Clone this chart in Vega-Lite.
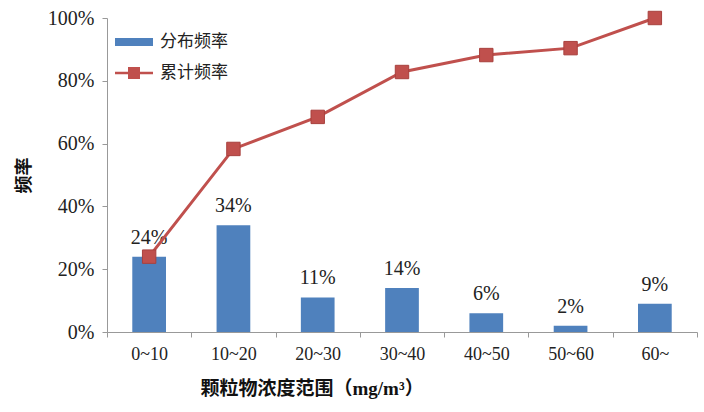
{
  "$schema": "https://vega.github.io/schema/vega-lite/v6.json",
  "width": 590,
  "height": 314,
  "autosize": {"type": "none"},
  "padding": {"left": 107, "top": 18, "right": 7, "bottom": 80},
  "background": "white",
  "config": {
    "view": {"stroke": null},
    "font": "Times New Roman, Liberation Serif, Noto Sans CJK SC, serif",
    "axis": {"grid": false}
  },
  "data": {
    "values": [
      {"range": "0~10", "dist": 0.24, "cum": 0.24, "label": "24%"},
      {"range": "10~20", "dist": 0.34, "cum": 0.583, "label": "34%"},
      {"range": "20~30", "dist": 0.11, "cum": 0.685, "label": "11%"},
      {"range": "30~40", "dist": 0.14, "cum": 0.828, "label": "14%"},
      {"range": "40~50", "dist": 0.06, "cum": 0.882, "label": "6%"},
      {"range": "50~60", "dist": 0.02, "cum": 0.904, "label": "2%"},
      {"range": "60~", "dist": 0.09, "cum": 1.0, "label": "9%"}
    ]
  },
  "encoding": {
    "x": {
      "field": "range",
      "type": "ordinal",
      "sort": null,
      "scale": {"paddingInner": 0, "paddingOuter": 0},
      "axis": {
        "title": "颗粒物浓度范围（mg/m³）",
        "titleFont": "Times New Roman, Liberation Serif, Noto Sans CJK SC, serif",
        "titleFontSize": 19,
        "titleFontWeight": "bold",
        "titleColor": "#111",
        "titleAlign": "left",
        "titleAnchor": null,
        "titleX": 93,
        "titleY": 62,
        "titleBaseline": "alphabetic",
        "labelAngle": 0,
        "labelFont": "Times New Roman, Liberation Serif, serif",
        "labelFontSize": 18,
        "labelColor": "#222",
        "labelPadding": 8,
        "tickBand": "extent",
        "tickSize": 5,
        "tickColor": "#999",
        "domainColor": "#999"
      }
    }
  },
  "layer": [
    {
      "mark": {"type": "bar", "width": {"band": 0.4}, "color": "#4F81BD"},
      "encoding": {
        "y": {
          "field": "dist",
          "type": "quantitative",
          "scale": {"domain": [0, 1], "nice": false},
          "axis": {
            "title": "频率",
            "titleFont": "Noto Sans CJK SC, sans-serif",
            "titleFontSize": 18,
            "titleFontWeight": "bold",
            "titleColor": "#111",
            "titlePadding": 14,
            "format": ".0%",
            "values": [0, 0.2, 0.4, 0.6, 0.8, 1.0],
            "labelFont": "Times New Roman, Liberation Serif, serif",
            "labelFontSize": 20,
            "labelColor": "#222",
            "labelPadding": 8,
            "tickSize": 5,
            "tickColor": "#999",
            "domainColor": "#999"
          }
        },
        "color": {
          "datum": "分布频率",
          "type": "nominal",
          "scale": {"domain": ["分布频率", "累计频率"], "range": ["#4F81BD", "#C0504D"]},
          "legend": {
            "title": null,
            "orient": "none",
            "legendX": 17,
            "legendY": 14,
            "padding": 0,
            "rowPadding": 13,
            "labelFontSize": 17,
            "labelColor": "#222",
            "labelFont": "Noto Sans CJK SC, sans-serif",
            "labelOffset": 16,
            "symbolSize": 400,
            "encode": {
              "symbols": {
                "update": {
                  "shape": {"signal": "datum.value === '分布频率' ? 'M-1.9,-0.4H1.9V0.4H-1.9Z' : 'M-1.9,-0.13H1.9V0.13H-1.9Z M-0.6,-0.6H0.6V0.6H-0.6Z'"},
                  "fill": {"signal": "datum.value === '分布频率' ? '#4F81BD' : '#C0504D'"},
                  "stroke": {"value": null},
                  "strokeWidth": {"value": 0},
                  "opacity": {"value": 1},
                  "fillOpacity": {"value": 1}
                }
              }
            }
          }
        }
      }
    },
    {
      "mark": {"type": "text", "baseline": "alphabetic", "dy": -13, "fontSize": 20, "color": "#222", "font": "Times New Roman, Liberation Serif, serif"},
      "encoding": {
        "y": {"field": "dist", "type": "quantitative"},
        "text": {"field": "label"}
      }
    },
    {
      "mark": {"type": "line", "strokeWidth": 3, "color": "#C0504D"},
      "encoding": {
        "y": {"field": "cum", "type": "quantitative"},
        "color": {"datum": "累计频率", "type": "nominal"}
      }
    },
    {
      "mark": {"type": "point", "shape": "square", "size": 180, "filled": true, "opacity": 1, "stroke": "#A8403D", "strokeWidth": 1},
      "encoding": {
        "y": {"field": "cum", "type": "quantitative"},
        "color": {"datum": "累计频率", "type": "nominal"}
      }
    }
  ]
}
